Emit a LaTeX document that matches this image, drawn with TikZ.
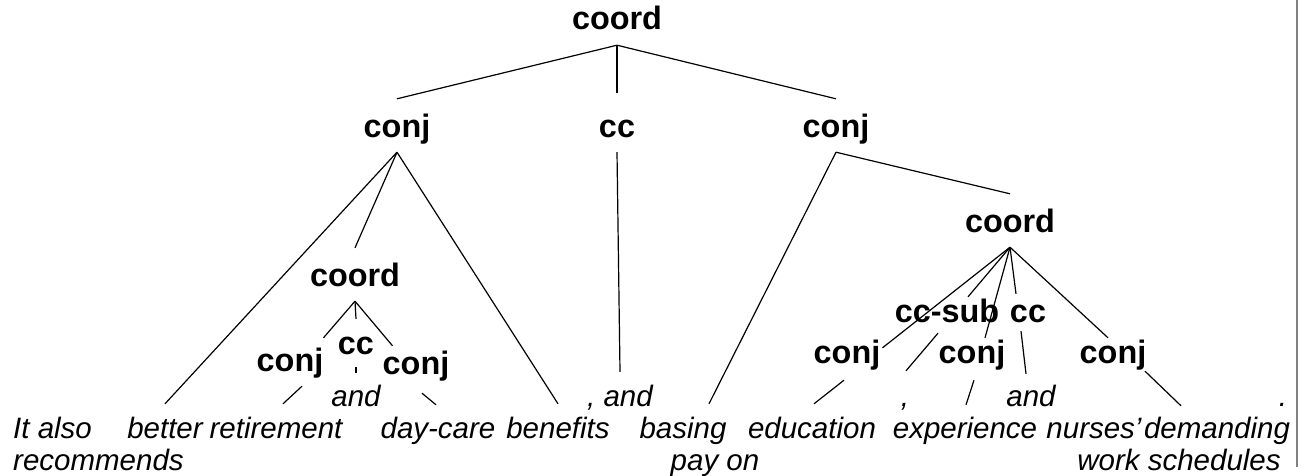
\documentclass[tikz,border=0pt]{standalone}
\usepackage{fontspec}
\setmainfont{Liberation Sans}
\begin{document}
\begin{tikzpicture}[x=1pt, y=-1pt,
  lab/.style={font=\bfseries\fontsize{32.4}{36}\selectfont, inner sep=0pt,
              text height=38pt, text depth=15pt, anchor=base},
  wd/.style={font=\itshape\fontsize{29.5}{32}\selectfont, inner sep=0pt,
             text height=34pt, anchor=base},
  edge/.style={line width=1.2pt, black}]
\useasboundingbox (0,0) rectangle (1303,476);
\fill[white] (0,0) rectangle (1303,476);

% category labels
\node[lab] (root) at (617,30)  {coord};
\node[lab] (c1)   at (397,137) {conj};
\node[lab] (cc1)  at (617,137) {cc};
\node[lab] (c2)   at (836,137) {conj};
\node[lab] (co1)  at (355,286) {coord};
\node[lab] (c11)  at (290,371) {conj};
\node[lab] (cc11) at (356,354) {cc};
\node[lab] (c12)  at (416,374) {conj};
\node[lab] (co2)  at (1010,232) {coord};
\node[lab] (sub)  at (947,322) {cc-sub};
\node[lab] (cc2)  at (1028,322) {cc};
\node[lab] (c21)  at (847,363) {conj};
\node[lab] (c22)  at (972,363) {conj};
\node[lab] (c23)  at (1113,363) {conj};

% sentence words
\node[wd, anchor=base west] (w-it)  at (13,438) {It also};
\node[wd, anchor=base west] (w-rec) at (13,470) {recommends};
\node[wd] (w-better) at (165,438) {better};
\node[wd] (w-ret)    at (276,438) {retirement};
\node[wd] (w-and1)   at (356,406) {and};
\node[wd] (w-day)    at (438,438) {day-care};
\node[wd] (w-ben)    at (558,438) {benefits};
\node[wd] (w-and2)   at (620,406) {, and};
\node[wd] (w-bas)    at (683,438) {basing};
\node[wd] (w-pay)    at (715,470) {pay on};
\node[wd] (w-edu)    at (812,438) {education};
\node[wd] (w-comma)  at (905,406) {,};
\node[wd] (w-exp)    at (965,438) {experience};
\node[wd] (w-and3)   at (1031,406) {and};
\node[wd] (w-nur)    at (1094,438) {nurses’};
\node[wd] (w-dem)    at (1217,438) {demanding};
\node[wd] (w-work)   at (1179,470) {work schedules};
\node[wd] (w-dot)    at (1283,406) {.};

% top level
\draw[edge] (root.south) -- (c1.north);
\draw[edge, shorten >=6pt] (root.south) -- (cc1.north);
\draw[edge] (root.south) -- (c2.north);

% left conjunct
\draw[edge] (c1.south) -- (w-better.north);
\draw[edge] (c1.south) -- (co1.north);
\draw[edge] (c1.south) -- (w-ben.north);
\draw[edge] (cc1.south) -- (w-and2.north);

% right conjunct
\draw[edge] (c2.south) -- ([xshift=26pt]w-bas.north);
\draw[edge] (c2.south) -- (co2.north);

% inner left coordination
\draw[edge] (co1.south) -- ([yshift=-5pt]c11.north east);
\draw[edge] (co1.south) -- ([yshift=-3pt]cc11.north);
\draw[edge] (co1.south) -- ([xshift=10pt,yshift=-10pt]c12.north west);
\draw[edge] ([xshift=12pt]c11.south) -- ([xshift=7pt]w-ret.north);
\draw[edge] ([yshift=2pt]cc11.south) -- ([yshift=-1pt]w-and1.north);
\draw[edge] ([xshift=6pt,yshift=-4pt]c12.south) -- ([xshift=-2pt,yshift=-1pt]w-day.north);

% inner right coordination
\draw[edge] (co2.south) -- ([xshift=2pt,yshift=-23pt]c21.north east);
\draw[edge] (co2.south) -- ([xshift=21pt,yshift=-13pt]sub.north);
\draw[edge] (co2.south) -- ([xshift=13pt,yshift=-13pt]c22.north);
\draw[edge] (co2.south) -- ([xshift=-12pt,yshift=-10pt]cc2.north);
\draw[edge] (co2.south) -- ([xshift=-5pt,yshift=-13pt]c23.north);
\draw[edge] ([xshift=-3pt,yshift=-2pt]c21.south) -- ([xshift=2pt]w-edu.north);
\draw[edge] ([xshift=-9pt,yshift=4pt]sub.south) -- ([xshift=1pt,yshift=1pt]w-comma.north);
\draw[edge] ([xshift=2pt,yshift=-2pt]c22.south) -- ([xshift=1pt,yshift=-1pt]w-exp.north);
\draw[edge] ([xshift=-7pt,yshift=6pt]cc2.south) -- ([xshift=-5pt,yshift=-2pt]w-and3.north);
\draw[edge] ([xshift=32pt,yshift=7pt]c23.south) -- ([xshift=-36pt,yshift=-2pt]w-dem.north);

% frame edge on the right
\draw[gray, line width=1.5pt] (1297,0) -- (1297,467);
\end{tikzpicture}
\end{document}
